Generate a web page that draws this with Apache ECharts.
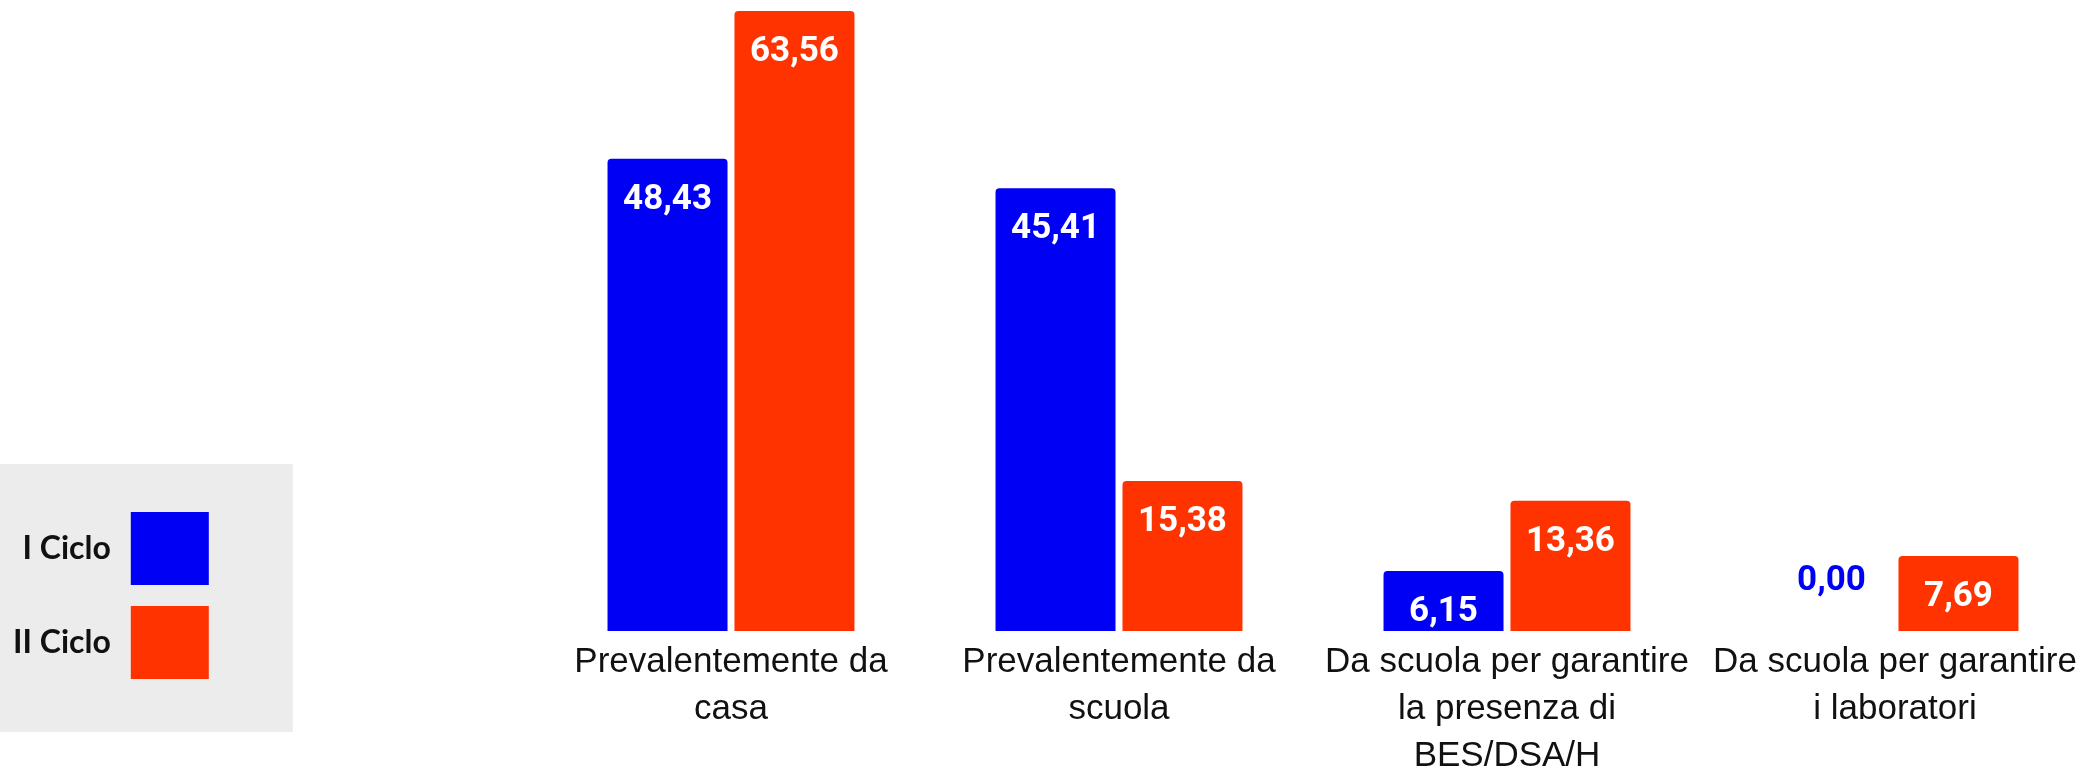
<!DOCTYPE html>
<html>
<head>
<meta charset="utf-8">
<script src="https://cdn.jsdelivr.net/npm/echarts@6/dist/echarts.min.js"></script>
<style>
  html, body { margin: 0; padding: 0; background: #fff; }
  #main { width: 2088px; height: 768px; }
</style>
</head>
<body>
<div id="main"></div>
<script>
// categorie e valori (percentuali)
var categories = [
  "Prevalentemente da\ncasa",
  "Prevalentemente da\nscuola",
  "Da scuola per garantire\nla presenza di\nBES/DSA/H",
  "Da scuola per garantire\ni laboratori"
];
var seriesNames = ["I Ciclo", "II Ciclo"];
var ciclo1 = [48.43, 45.41, 6.15, 0.00];
var ciclo2 = [63.56, 15.38, 13.36, 7.69];

var BLUE = "#0000f5";
var ORANGE = "#ff3300";

function fmt(p) {
  return p.value.toFixed(2).replace(".", ",");
}

// valore zero: etichetta sopra la base, colorata
function toData(values, color) {
  return values.map(function (v) {
    if (v === 0) {
      return { value: v, label: { position: "top", distance: 32, color: color } };
    }
    return v;
  });
}

var valueLabel = {
  show: true,
  position: "insideTop",
  distance: 24,
  color: "#fff",
  fontFamily: "Roboto",
  fontWeight: "bold",
  fontSize: 35,
  formatter: fmt
};

var myChart = echarts.init(document.getElementById("main"));
myChart.setOption({
  animation: false,
  backgroundColor: "#fff",
  legend: {
    orient: "vertical",
    left: 0,
    top: 464,
    align: "right",
    padding: [48, 84, 53, 13],
    backgroundColor: "#ececec",
    itemWidth: 78,
    itemHeight: 73,
    itemGap: 21,
    icon: "rect",
    selectedMode: false,
    textStyle: {
      fontFamily: "Lato",
      fontWeight: "bold",
      fontSize: 32,
      color: "#111",
      padding: [0, 15, 0, 0]
    },
    data: seriesNames
  },
  grid: { left: 537, width: 1552, top: 0, bottom: 137, outerBoundsMode: "none" },
  xAxis: {
    type: "category",
    data: categories,
    axisLine: { show: false },
    axisTick: { show: false },
    axisLabel: {
      interval: 0,
      margin: 8,
      fontFamily: "Liberation Sans",
      fontSize: 35,
      lineHeight: 47,
      color: "#111"
    }
  },
  yAxis: {
    type: "value",
    min: 0,
    max: 64.7,
    show: false,
    splitLine: { show: false }
  },
  series: [
    {
      name: seriesNames[0],
      type: "bar",
      barWidth: 120,
      barGap: "5.8%",
      itemStyle: { color: BLUE, borderRadius: [4, 4, 0, 0] },
      label: valueLabel,
      data: toData(ciclo1, BLUE)
    },
    {
      name: seriesNames[1],
      type: "bar",
      barWidth: 120,
      itemStyle: { color: ORANGE, borderRadius: [4, 4, 0, 0] },
      label: valueLabel,
      data: toData(ciclo2, ORANGE)
    }
  ]
});
</script>
</body>
</html>
